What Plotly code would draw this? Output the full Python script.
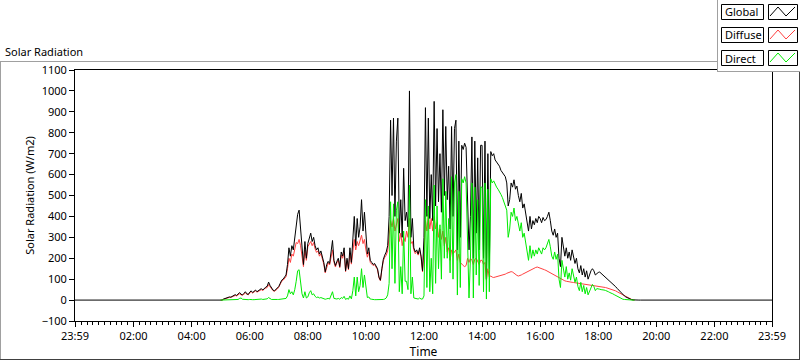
import plotly.graph_objects as go

# ---- data (3-minute samples from 05:00 to 19:30, W/m2) ----
START_MIN = 300   # 05:00
STEP_MIN = 3

GLOBAL = (
    [0,0,5,8,10,12,15,14,18,20,26,22,30,36,28,25,32,40,30,27] +
    [38,44,36,42,48,40,46,52,55,48,58,62,66,86,70,55,48,44,50,56] +
    [65,80,95,100,110,120,170,250,210,260,240,300,360,410,430,330,250,170,280,200] +
    [270,300,320,280,300,260,240,250,220,235,210,180,135,170,185,175,230,285,190,165] +
    [185,200,160,230,210,250,140,200,150,250,180,300,400,260,390,300,350,480,330,420] +
    [300,220,250,190,180,170,175,160,150,110,95,150,195,215,230,260,400,860,500,870] +
    [400,760,870,320,480,300,630,380,420,350,1000,300,390,250,230,240,220,250,210,140] +
    [300,920,400,870,390,600,380,950,450,820,470,700,420,910,500,830,480,640,340,830] +
    [400,820,860,240,760,300,740,720,750,730,420,240,400,780,200,760,320,680,240,740] +
    [740,200,760,100,700,150,710,690,700,670,660,650,640,620,610,600,590,560,450,480] +
    [560,540,575,530,545,500,470,510,440,460,410,380,330,400,340,380,360,390,370,400] +
    [390,370,395,380,385,400,420,380,330,310,340,300,320,200,160,300,240,210,250,200] +
    [230,190,240,200,175,200,150,130,165,120,150,110,140,100,125,140,150,140,120,128] +
    [132,134,128,122,116,110,104,98,92,86,80,72,64,56,48,40,32,26,20,15] +
    [11,7,4,2,1,0,0,0,0,0,0]
)

DIFFUSE = (
    [0,0,4,7,9,11,13,13,16,18,22,20,26,30,25,23,28,34,28,25] +
    [35,40,34,40,44,38,43,48,50,45,54,57,60,74,64,52,45,42,47,53] +
    [62,76,90,95,104,112,150,200,180,220,210,250,275,270,290,260,220,160,240,190] +
    [255,270,280,260,275,245,228,235,210,222,200,172,130,162,178,168,210,240,182,158] +
    [178,190,155,215,200,230,136,190,145,225,172,250,290,240,280,260,280,310,270,290] +
    [240,205,230,180,172,165,170,155,145,106,92,145,188,205,215,235,320,380,350,390] +
    [330,360,390,280,320,260,300,280,330,300,390,270,280,240,222,232,215,240,205,135] +
    [230,380,330,410,340,390,330,400,340,370,300,340,290,330,260,300,230,250,190,240] +
    [220,230,240,190,220,180,170,165,160,165,200,180,200,190,170,195,200,180,170,190] +
    [190,170,180,95,150,110,115,110,108,110,112,114,116,115,118,122,124,128,132,135] +
    [136,134,128,122,118,115,116,120,124,128,132,134,136,140,145,150,154,156,158,156] +
    [154,150,147,145,142,138,134,130,126,122,118,114,110,106,100,96,94,92,90,88] +
    [87,86,85,84,83,82,81,80,79,78,77,76,75,74,73,72,71,70,69,68] +
    [68,67,66,64,62,60,58,56,54,52,50,47,44,40,36,32,28,24,20,16] +
    [12,8,5,3,1,0]
)

DIRECT = (
    [0,0,1,1,1,1,2,1,2,2,3,2,3,8,10,4,3,3,2,2] +
    [3,4,2,2,3,2,3,4,5,3,4,5,6,12,6,3,3,2,3,3] +
    [3,4,5,5,6,8,20,50,30,40,25,50,90,140,145,70,30,10,40,10] +
    [15,35,45,25,30,18,12,15,10,12,8,6,4,6,8,5,22,40,8,5] +
    [5,8,4,12,8,18,3,8,4,20,6,45,110,20,110,40,70,150,60,120] +
    [60,12,15,5,4,2,2,2,2,1,1,2,3,5,10,25,80,470,150,460] +
    [80,430,470,40,160,30,330,90,90,50,550,30,110,10,8,8,5,10,5,5] +
    [20,480,60,450,40,200,30,550,80,450,150,360,100,580,200,520,200,390,130,590] +
    [100,560,600,24,520,60,580,560,590,560,230,10,200,560,10,540,120,480,70,540] +
    [540,40,560,5,530,40,580,560,570,550,540,530,520,505,490,470,460,430,300,340] +
    [420,400,440,380,400,360,330,370,300,320,270,240,190,260,200,240,210,240,220,250] +
    [235,220,250,240,250,268,290,255,210,195,230,195,220,100,60,190,140,110,160,100] +
    [130,95,150,110,85,110,65,45,85,40,70,30,60,25,45,65,75,65,45,55] +
    [55,52,50,50,48,46,44,40,36,34,30,26,22,18,14,10,6,4,3,2] +
    [1,1,0,0,0,0]
)

NIGHT_START = -1      # 23:59 previous day (minutes)
NIGHT_END = 1439      # 23:59
TICK_VALS = [-1, 120, 240, 360, 480, 600, 720, 840, 960, 1080, 1200, 1320, 1439]
TICK_TEXT = ["23:59", "02:00", "04:00", "06:00", "08:00", "10:00", "12:00",
             "14:00", "16:00", "18:00", "20:00", "22:00", "23:59"]

def times(n):
    return [START_MIN + STEP_MIN * i for i in range(n)]

FONT = "Noto Sans"

fig = go.Figure()
fig.add_trace(go.Scatter(x=times(len(DIFFUSE)), y=DIFFUSE, mode="lines",
                         line=dict(color="rgb(255,64,64)", width=1), name="Diffuse"))
fig.add_trace(go.Scatter(x=[NIGHT_START] + times(len(GLOBAL)) + [NIGHT_END],
                         y=[0] + GLOBAL + [0], mode="lines",
                         line=dict(color="black", width=1), name="Global"))
fig.add_trace(go.Scatter(x=times(len(DIRECT)), y=DIRECT, mode="lines",
                         line=dict(color="rgb(0,235,0)", width=1), name="Direct"))

# pixel -> paper helpers (plot area: x 75..772, y 70..321)
L, R, T, B = 75, 772, 70, 321
def PX(px):
    return (px - L) / (R - L)
def PY(py):
    return (B - py) / (B - T)

shapes = []
def line(x0, y0, x1, y1, color, w=1):
    shapes.append(dict(type="line", xref="paper", yref="paper",
                       x0=PX(x0), y0=PY(y0), x1=PX(x1), y1=PY(y1),
                       line=dict(color=color, width=w), layer="above"))

# outer frame
line(0, 61.5, 717, 61.5, "#a0a0a0")
line(0.5, 61, 0.5, 360, "#a0a0a0")
line(0, 359.5, 800, 359.5, "#404040")
line(799.5, 72, 799.5, 360, "#404040")

# legend panel
shapes.append(dict(type="rect", xref="paper", yref="paper",
                   x0=PX(717), y0=PY(0), x1=PX(800), y1=PY(72),
                   fillcolor="white", line=dict(width=0), layer="above"))
line(717.5, 0, 717.5, 72, "#a0a0a0")
line(717, 71.5, 800, 71.5, "#a0a0a0")

annotations = [dict(text="Solar Radiation", xref="paper", yref="paper",
                    x=PX(3), y=PY(51), xanchor="left", yanchor="middle",
                    showarrow=False, font=dict(family=FONT, size=11, color="black"))]

LEG_NAMES = ["Global", "Diffuse", "Direct"]
LEG_COLORS = ["black", "rgb(255,64,64)", "rgb(0,235,0)"]
for k, (nm, col) in enumerate(zip(LEG_NAMES, LEG_COLORS)):
    oy = 23 * k
    shapes.append(dict(type="rect", xref="paper", yref="paper",
                       x0=PX(721.5), y0=PY(4.5 + oy), x1=PX(763.5), y1=PY(19.5 + oy),
                       fillcolor="white", line=dict(color="black", width=1), layer="above"))
    shapes.append(dict(type="rect", xref="paper", yref="paper",
                       x0=PX(768.5), y0=PY(4.5 + oy), x1=PX(797.5), y1=PY(19.5 + oy),
                       fillcolor="white", line=dict(color="black", width=1), layer="above"))
    pts = [(770, 16 + oy), (778, 7 + oy), (786, 16 + oy), (795, 7 + oy)]
    path = "M " + " L ".join(f"{PX(a)},{PY(b)}" for a, b in pts)
    shapes.append(dict(type="path", xref="paper", yref="paper", path=path,
                       line=dict(color=col, width=1), layer="above"))
    annotations.append(dict(text=nm, xref="paper", yref="paper",
                            x=PX(723), y=PY(12 + oy), xanchor="left", yanchor="middle",
                            showarrow=False, font=dict(family=FONT, size=11, color="black")))

fig.update_layout(
    width=800, height=361,
    margin=dict(l=L, r=800 - R, t=T, b=361 - B, autoexpand=False),
    paper_bgcolor="white", plot_bgcolor="white",
    showlegend=False,
    font=dict(family=FONT, size=11, color="black"),
    shapes=shapes, annotations=annotations,
    xaxis=dict(range=[NIGHT_START, NIGHT_END], tickmode="array",
               tickvals=TICK_VALS, ticktext=TICK_TEXT, automargin=False,
               ticks="outside", ticklen=5, tickcolor="black",
               showline=True, linecolor="black", linewidth=1, mirror=True,
               showgrid=False, zeroline=False,
               minor=dict(ticks="outside", ticklen=3, tickcolor="black",
                          tick0=0, dtick=12, showgrid=False),
               title=dict(text="Time", standoff=2, font=dict(size=12))),
    yaxis=dict(range=[-100, 1100], tickmode="linear", tick0=0, dtick=100,
               ticks="outside", ticklen=5, tickcolor="black", automargin=False,
               showline=True, linecolor="black", linewidth=1, mirror=True,
               showgrid=False, zeroline=False,
               title=dict(text="Solar Radiation (W/m2)", standoff=4, font=dict(size=11))),
)

fig.write_html("out.html", config={"displayModeBar": False},
               post_script="document.body.style.margin='0px';document.body.style.overflow='hidden';")
